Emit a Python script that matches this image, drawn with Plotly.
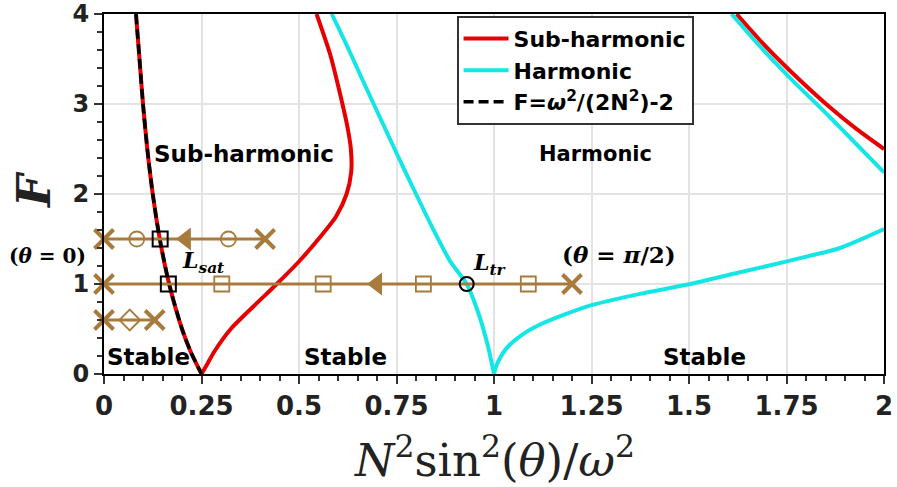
import plotly.graph_objects as go

# ---------------- data ----------------
# x = N^2 sin^2(theta)/omega^2, F = forcing amplitude
# Sub-harmonic boundary: left branch (down to cusp), right branch (up from cusp)
subL_x = [0.082, 0.091, 0.100, 0.111, 0.125, 0.143, 0.167, 0.200, 0.222, 0.250]
subL_F = [4.00, 3.50, 3.00, 2.50, 2.00, 1.50, 1.00, 0.50, 0.25, 0.00]
subR_x = [0.250, 0.266, 0.283, 0.325, 0.383, 0.443, 0.500, 0.550, 0.595, 0.622, 0.634,
          0.633, 0.624, 0.606, 0.580, 0.545]
subR_F = [0.00, 0.12, 0.25, 0.50, 0.75, 1.00, 1.25, 1.50, 1.75, 2.00, 2.25,
          2.50, 2.75, 3.10, 3.55, 4.00]
# Sub-harmonic boundary, upper right branch
sub2_x = [1.622, 1.690, 1.759, 1.862, 1.930, 2.000]
sub2_F = [4.00, 3.67, 3.37, 2.96, 2.72, 2.50]

# Harmonic boundary: left branch (down to cusp at 1) and lower right branch
harL_x = [0.584, 0.628, 0.670, 0.713, 0.756, 0.800, 0.845, 0.888, 0.930, 0.962,
          0.985, 1.000]
harL_F = [4.00, 3.60, 3.20, 2.80, 2.40, 2.00, 1.60, 1.25, 1.00, 0.65,
          0.30, 0.00]
harR_x = [1.000, 1.005, 1.012, 1.033, 1.070, 1.118, 1.180, 1.246, 1.374,
          1.503, 1.631, 1.759, 1.887, 2.000]
harR_F = [0.00, 0.08, 0.15, 0.29, 0.43, 0.55, 0.66, 0.76, 0.89,
          1.00, 1.13, 1.26, 1.40, 1.61]
# Harmonic boundary, upper right branch
har2_x = [1.609, 1.680, 1.750, 1.862, 1.930, 2.000]
har2_F = [4.00, 3.65, 3.33, 2.85, 2.55, 2.24]

# Analytic curve F = omega^2/(2N^2) - 2 (as read)
ana_x = [0.082, 0.091, 0.100, 0.111, 0.125, 0.143, 0.167, 0.200, 0.222, 0.250]
ana_F = [4.00, 3.50, 3.00, 2.50, 2.00, 1.50, 1.00, 0.50, 0.25, 0.00]

# Forcing paths (brown)
path_F = [1.5, 1.0, 0.6]
path_x0 = [0.0, 0.0, 0.0]
path_x1 = [0.413, 1.200, 0.130]

cross_x = [0.0, 0.413, 0.0, 1.200, 0.0, 0.130]
cross_F = [1.5, 1.5, 1.0, 1.0, 0.6, 0.6]
circ_x = [0.084, 0.319]
circ_F = [1.5, 1.5]
sq_x = [0.302, 0.562, 0.819, 1.088]
sq_F = [1.0, 1.0, 1.0, 1.0]
dia_x = [0.066]
dia_F = [0.6]
arrow_x = [0.210, 0.700]
arrow_F = [1.5, 1.0]
lsat_x = [0.144, 0.165]
lsat_F = [1.5, 1.0]
ltr_x = [0.930]
ltr_F = [1.0]

x_ticks = [0, 0.25, 0.5, 0.75, 1, 1.25, 1.5, 1.75, 2]
x_labels = ["0", "0.25", "0.5", "0.75", "1", "1.25", "1.5", "1.75", "2"]
y_ticks = [0, 1, 2, 3, 4]

RED = "#E60000"
CYAN = "#14E6E6"
BROWN = "#A87B3C"

fig = go.Figure()

def curve(x, y, name, color, show, group, shape="spline"):
    fig.add_trace(go.Scatter(x=x, y=y, mode="lines", name=name, legendgroup=group,
                             showlegend=show, line=dict(color=color, width=4, shape=shape,
                                                        smoothing=0.7)))

curve(subL_x, subL_F, "<b>Sub-harmonic</b>", RED, True, "sub")
curve(subR_x, subR_F, "<b>Sub-harmonic</b>", RED, False, "sub")
curve(sub2_x, sub2_F, "<b>Sub-harmonic</b>", RED, False, "sub")
curve(harL_x, harL_F, "<b>Harmonic</b>", CYAN, True, "har")
curve(harR_x, harR_F, "<b>Harmonic</b>", CYAN, False, "har")
curve(har2_x, har2_F, "<b>Harmonic</b>", CYAN, False, "har")
fig.add_trace(go.Scatter(x=ana_x, y=ana_F, mode="lines",
                         name="<b>F=<i>ω</i><sup>2</sup>/(2N<sup>2</sup>)-2</b>",
                         line=dict(color="black", width=3.5, dash="10px,5px",
                                   shape="spline", smoothing=0.7)))

# brown paths
for F, a, b in zip(path_F, path_x0, path_x1):
    fig.add_trace(go.Scatter(x=[a, b], y=[F, F], mode="lines", showlegend=False,
                             line=dict(color=BROWN, width=3), cliponaxis=False,
                             hoverinfo="skip"))

fig.add_trace(go.Scatter(x=arrow_x, y=arrow_F, mode="markers", showlegend=False,
                         marker=dict(symbol="triangle-left", size=20, color=BROWN),
                         cliponaxis=False))
fig.add_trace(go.Scatter(x=cross_x, y=cross_F, mode="markers", showlegend=False,
                         marker=dict(symbol="x-thin", size=19, color=BROWN,
                                     line=dict(color=BROWN, width=4)),
                         cliponaxis=False))
fig.add_trace(go.Scatter(x=circ_x, y=circ_F, mode="markers", showlegend=False,
                         marker=dict(symbol="circle-open", size=15, color=BROWN,
                                     line=dict(color=BROWN, width=1.8)),
                         cliponaxis=False))
fig.add_trace(go.Scatter(x=sq_x, y=sq_F, mode="markers", showlegend=False,
                         marker=dict(symbol="square-open", size=15, color=BROWN,
                                     line=dict(color=BROWN, width=1.8)),
                         cliponaxis=False))
fig.add_trace(go.Scatter(x=dia_x, y=dia_F, mode="markers", showlegend=False,
                         marker=dict(symbol="diamond-open", size=16, color=BROWN,
                                     line=dict(color=BROWN, width=1.8)),
                         cliponaxis=False))
fig.add_trace(go.Scatter(x=lsat_x, y=lsat_F, mode="markers", showlegend=False,
                         marker=dict(symbol="square-open", size=15, color="black",
                                     line=dict(color="black", width=2)),
                         cliponaxis=False))
fig.add_trace(go.Scatter(x=ltr_x, y=ltr_F, mode="markers", showlegend=False,
                         marker=dict(symbol="circle-open", size=14, color="black",
                                     line=dict(color="black", width=2)),
                         cliponaxis=False))

BOLD = dict(family="DejaVu Sans", size=23, color="black")
SERIF = dict(family="DejaVu Serif", size=22, color="black")
annots = [
    dict(x=0.36, y=2.45, text="<b>Sub-harmonic</b>", font=BOLD),
    dict(x=1.26, y=2.45, text="<b>Harmonic</b>", font=dict(family="DejaVu Sans", size=21, color="black")),
    dict(x=0.113, y=0.19, text="<b>Stable</b>", font=BOLD),
    dict(x=0.62, y=0.19, text="<b>Stable</b>", font=BOLD),
    dict(x=1.54, y=0.19, text="<b>Stable</b>", font=BOLD),
    dict(x=1.32, y=1.33, text="<b>(<i>θ</i> = <i>π</i>/2)</b>", font=dict(family="DejaVu Serif", size=23, color="black")),
    dict(x=0.255, y=1.24, text="<b><i>L<sub>sat</sub></i></b>", font=SERIF),
    dict(x=0.99, y=1.22, text="<b><i>L<sub>tr</sub></i></b>", font=SERIF),
]
for a in annots:
    a.update(xref="x", yref="y", showarrow=False, xanchor="center", yanchor="middle")
# texts outside the plotting area (paper coordinates)
annots += [
    dict(xref="paper", yref="paper", x=-0.073, y=0.329, showarrow=False,
         xanchor="center", yanchor="middle",
         text="<b>(<i>θ</i> = 0)</b>", font=dict(family="DejaVu Serif", size=20, color="black")),
    dict(xref="paper", yref="paper", x=0.5, y=-0.232, showarrow=False,
         xanchor="center", yanchor="middle",
         text="<i>N</i><sup>2</sup>sin<sup>2</sup>(<i>θ</i>)/<i>ω</i><sup>2</sup>",
         font=dict(family="DejaVu Serif", size=45, color="#222222")),
    dict(xref="paper", yref="paper", x=-0.089, y=0.51, showarrow=False, textangle=-90,
         xanchor="center", yanchor="middle",
         text="<b><i>F</i></b>", font=dict(family="DejaVu Serif", size=46, color="#222222")),
]
fig.update_layout(annotations=annots)

fig.update_layout(
    width=897, height=487,
    margin=dict(l=104, r=13, t=14, b=113),
    plot_bgcolor="white", paper_bgcolor="white",
    showlegend=True,
    legend=dict(x=0.452, y=0.995, xanchor="left", yanchor="top",
                bordercolor="#333333", borderwidth=2, bgcolor="white",
                font=dict(family="DejaVu Sans", size=22, color="black"),
                itemwidth=45, tracegroupgap=0),
    xaxis=dict(range=[0, 2], tickvals=x_ticks, ticktext=["<b>%s</b>" % t for t in x_labels],
               tickfont=dict(family="DejaVu Sans", size=26, color="#222222"),
               ticks="outside", ticklen=8, tickwidth=2, tickcolor="#333333",
               minor=dict(dtick=0.05, ticks="outside", ticklen=5, tickwidth=1.5,
                          tickcolor="#333333", showgrid=False),
               showgrid=True, gridcolor="#E3E3E3", gridwidth=1.5,
               showline=True, linecolor="black", linewidth=2, mirror=True,
               zeroline=False, automargin=False, ticklabeloverflow="allow"),
    yaxis=dict(range=[0, 4], tickvals=y_ticks, ticktext=["<b>%d</b>" % t for t in y_ticks],
               tickfont=dict(family="DejaVu Sans", size=24, color="#222222"),
               ticks="outside", ticklen=8, tickwidth=2, tickcolor="#333333",
               minor=dict(dtick=0.2, ticks="outside", ticklen=5, tickwidth=1.5,
                          tickcolor="#333333", showgrid=False),
               showgrid=True, gridcolor="#E3E3E3", gridwidth=1.5,
               showline=True, linecolor="black", linewidth=2, mirror=True,
               zeroline=False, automargin=False, ticklabeloverflow="allow"),
)

fig.write_html("out.html", config={"displayModeBar": False},
               post_script="document.body.style.margin='0';document.body.style.overflow='hidden';")
